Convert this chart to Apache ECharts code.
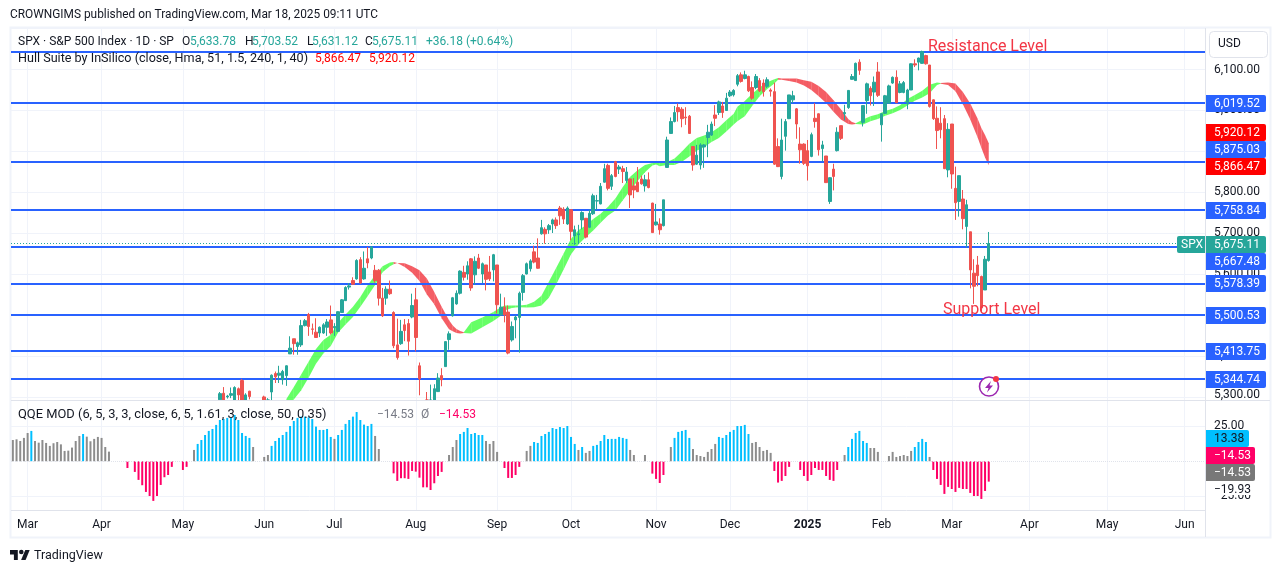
<!DOCTYPE html>
<html><head><meta charset="utf-8">
<style>html,body{margin:0;padding:0;background:#fff}#c{width:1281px;height:573px}</style>
<script src="https://cdn.jsdelivr.net/npm/echarts@6/dist/echarts.min.js"></script>
</head><body><div id="c"></div>
<script>
const FONT = 'Roboto';
const barSlots = 323;
const priceMin = 5293.5, priceMax = 6201.3;
const monthTicks = {4:'Mar',24:'Apr',46:'May',68:'Jun',87:'Jul',109:'Aug',131:'Sep',151:'Oct',174:'Nov',194:'Dec',215:'2025',235:'Feb',254:'Mar',275:'Apr',296:'May',317:'Jun'};
const firstCandle = 56;
const opens = [
5294,5310,5301,5305,5290,5321,5341,5290,5315,null,null,null,5301,5280,
5313,5358,5354,5343,5353,5406,5443,5424,5428,5475,5502,5467,5459,5457,5457,5471,
5489,5470,5461,5507,5536,5569,5585,5589,5636,5589,5638,5640,5610,5610,5542,5542,5564,5507,5428,5431,
5477,5480,5496,5538,5377,null,5260,5290,5280,5314,5353,5375,5441,5499,5528,5554,5605,5601,5638,5599,5640,
5601,5623,5606,5611,5623,5501,5520,5508,5440,5489,5495,5556,5601,5614,5655,5640,5699,5710,5709,5723,5733,
5762,5759,5723,5758,5694,5697,5733,5737,5715,5748,5779,5772,5825,5866,5815,5875,5857,5858,5829,5833,5816,
5825,5833,5816,5831,5774,5721,5723,5719,
5861,5944,5973,6007,6003,5984,5986,5912,5869,5867,5911,5934,5940,5989,5995,
6011,6000,6036,6038,6064,6087,6078,6083,6056,6056,6073,6067,6059,6050,6046,5912,5839,5937,5980,6026,6004,
5918,5918,5902,5888,5981,5992,5907,5889,5778,5857,5902,5963,5992,6007,6076,6073,6118,5971,6024,6054,6045,
6094,5965,5993,6018,6067,6081,6044,6044,6018,6050,6114,6118,6115,6134,6111,6026,5981,5969,5980,5855,5967,
5810,5778,5784,5717,5704,5603,5623,5595,5562,5633.78];
const highs = [
5313,5325,5306,5324,5327,5324,5345,5310,5316,null,null,null,5304,5298,
5356,5363,5377,5367,5378,5449,5443,5436,5489,5491,5506,5480,5493,5473,5481,5491,
5524,5481,5510,5540,5571,5579,5593,5637,5642,5656,5667,5669,5623,5613,5567,5571,5585,5510,5492,5489,
5491,5491,5553,5567,5385,null,5313,5331,5332,5359,5371,5436,5461,5545,5561,5610,5621,5632,5640,5644,5650,
5629,5623,5645,5650,5623,5553,5544,5524,5485,5500,5558,5601,5629,5637,5670,5688,5733,5715,5723,5736,5739,
5767,5764,5766,5758,5719,5721,5754,5737,5758,5797,5794,5823,5870,5870,5845,5877,5867,5865,5862,5833,5835,
5862,5841,5843,5849,5775,5772,5737,5782,
5936,5983,6011,6017,6008,6008,5989,5913,5916,5920,5918,5965,5973,6013,6024,
6021,6043,6050,6052,6089,6093,6097,6085,6071,6089,6079,6076,6081,6054,6068,5932,5980,5979,6038,6048,6006,
5959,5920,5928,5946,6018,5993,5926,5889,5837,5870,5959,5963,6014,6050,6089,6117,6125,6012,6068,6059,6083,
6118,5993,6038,6063,6083,6098,6072,6072,6053,6115,6125,6129,6146,6136,6111,6027,6010,6008,5989,5969,5967,
5863,5841,5806,5782,5704,5637,5645,5597,5645,5703.52];
const lows = [
5292,5285,5297,5298,5285,5290,5285,5285,5295,null,null,null,5285,5275,
5285,5335,5335,5331,5328,5406,5404,5404,5423,5473,5450,5453,5445,5447,5455,5450,
5453,5450,5459,5506,5535,5563,5575,5587,5577,5587,5615,5637,5580,5524,5496,5526,5550,5420,5392,5428,
5437,5402,5493,5412,5305,null,5255,5260,5275,5313,5327,5375,5416,5497,5526,5551,5585,5587,5560,5575,5613,
5579,5561,5584,5583,5505,5500,5483,5405,5436,5444,5409,5536,5600,5607,5627,5614,5697,5675,5699,5701,5711,
5721,5723,5721,5683,5672,5676,5710,5688,5713,5745,5758,5771,5824,5805,5806,5837,5845,5823,5823,5762,5786,
5801,5819,5802,5810,5701,5719,5697,5717,
5860,5943,5971,5973,5959,5965,5943,5853,5867,5856,5860,5886,5938,5962,5989,
5982,5999,6033,6034,6059,6068,6076,6045,6026,6052,6045,6034,6055,6034,5867,5862,5832,5902,5979,6018,5931,
5870,5867,5829,5886,5958,5890,5876,5823,5772,5805,5900,5928,5976,6004,6075,6072,6087,5961,5992,6012,6011,
6033,5924,5992,6016,6065,6018,6042,6042,6003,6050,6106,6098,6114,6112,6007,5977,5906,5932,5857,5837,5809,
5733,5741,5710,5666,5566,5528,5571,5509,5562,5631.12];
const closes = [
5309,5290,5303,5309,5324,5306,5290,5306,5302,null,null,null,5293,5285,
5354,5350,5359,5363,5377,5420,5431,5433,5475,5487,5473,5466,5446,5471,5477,5484,
5457,5473,5509,5538,5568,5572,5576,5634,5579,5615,5628,5667,5585,5542,5499,5564,5553,5426,5397,5461,
5463,5437,5524,5446,5345,null,5285,5270,5321,5347,5343,5436,5455,5543,5554,5608,5593,5621,5567,5632,5615,
5626,5588,5589,5648,5526,5520,5501,5408,5473,5496,5554,5597,5626,5633,5630,5615,5714,5699,5719,5733,5719,
5743,5735,5762,5705,5709,5699,5751,5691,5749,5792,5780,5815,5858,5810,5841,5839,5862,5851,5850,5794,5806,
5802,5821,5831,5812,5702,5728,5709,5782,
5928,5973,5995,5997,5980,5982,5944,5867,5891,5916,5916,5947,5967,5981,6021,
5995,6030,6045,6049,6085,6071,6087,6048,6030,6083,6048,6046,6075,6047,5869,5863,5928,5973,6038,6036,5967,
5904,5871,5865,5941,5973,5904,5916,5824,5836,5839,5947,5932,5995,6049,6083,6115,6098,6012,6065,6036,6069,
6037,5992,6036,6060,6081,6019,6065,6068,6050,6114,6111,6128,6144,6114,6010,5980,5951,5953,5858,5954,5845,
5775,5841,5736,5770,5611,5571,5597,5518,5637,5675.11];
const levelLines = [6143,6019.52,5875.03,5758.84,5667.48,5578.39,5500.53,5413.75,5344.74];
const lastClose = 5675.11;
const priceTicks = [5300,5400,5500,5600,5700,5800,5900,6000,6100,6200];
const priceLabels = [5400,5500,5600,5700,5800,5900,6000,6100];
const hullIdx = [74,76,78,80,82,84,86,88,90,92,94,96,98,100,102,103,104,106,108,110,112,114,116,118,119,120,121,122,
124,127,130,132,133,135,136,137,139,141,143,145,147,149,151,153,155,157,159,161,163,165,167,169,171,173,174,175,177,179,181,183,185,187,189,191,193,195,196,198,200,202,204,206,207,
208,210,212,214,216,218,220,222,224,226,227,228,230,232,234,236,238,240,242,244,246,248,250,251,253,255,257,259,261,262,263,264];
const hullUpper = [5296,5325,5356,5387,5418,5440,5453,5482,5502,5521,5545,5574,5598,5620,5629,5630,5628,5627,5620,5610,5590,5557,5521,5488,5475,5467,5462,5459,
5483,5495,5508,5520,5524,5524,5524,5524,5526,5533,5548,5582,5616,5651,5687,5708,5720,5735,5748,5765,5785,5813,5838,5854,5867,5872,5872,5872,5874,5883,5900,5919,5933,5939,5947,5959,5976,5992,6009,6023,6041,6056,6069,6076,6079,
6078,6078,6078,6074,6070,6060,6045,6025,6003,5979,5972,5969,5978,5986,5991,5999,6004,6013,6028,6038,6048,6063,6068,6067,6068,6066,6045,6017,5980,5957,5940,5920.12];
const hullLower = [5275,5295,5317,5348,5382,5407,5425,5458,5478,5496,5521,5547,5574,5605,5620,5625,5628,5618,5604,5584,5551,5527,5493,5466,5461,5457,5456,5457,
5456,5471,5486,5499,5512,5518,5519,5520,5519,5520,5524,5543,5576,5612,5649,5673,5691,5707,5726,5744,5756,5781,5805,5828,5849,5866,5868,5864,5867,5867,5875,5888,5902,5910,5923,5933,5949,5966,5974,5986,6011,6035,6052,6066,6075,
6075,6072,6068,6061,6050,6035,6018,5997,5978,5967,5966,5967,5966,5974,5979,5987,5993,6001,6012,6024,6032,6042,6062,6065,6062,6047,6015,5978,5934,5909,5885,5866.47];
const hullRedSpans = [[103,121],[207,227],[251,264]];
const qqeValues = [
15.2,15.7,14.5,16.7,20.2,21.7,14.5,13.3,15.2,13.1,11.0,12.9,13.8,12.1,7.4,7.6,9.8,14.5,18.1,19.5,17.6,14.3,16.0,17.4,16.7,10.2,6.9,
null,null,null,null,-4.8,null,-7.6,-13.3,-17.1,-21.9,-24.8,-28.3,-24.8,-16.9,-11.4,-9.8,-4.0,null,null,-6.2,-4.0,null,
8.1,12.4,15.2,18.8,21.7,23.1,26.0,29.5,30.2,31.0,31.0,33.1,29.5,20.2,18.1,16.7,10.2,null,null,
3.1,4.5,11.0,14.5,16.7,18.8,21.0,25.2,28.8,31.0,31.9,31.9,31.4,30.2,24.8,22.4,22.4,23.1,17.4,16.0,18.8,22.4,26.7,29.5,31.9,35.2,29.5,26.2,25.2,26.7,18.1,8.8,null,null,null,
-8.6,-14.0,-12.1,-12.1,-12.6,-6.9,-7.4,-11.7,-18.6,-18.6,-20.5,-15.7,-10.5,-7.6,null,
4.5,10.2,15.2,19.5,21.0,23.8,19.5,20.2,18.8,18.8,14.5,12.4,14.5,6.7,null,
-4.8,-11.9,-11.9,-9.8,-4.0,null,
7.4,11.0,13.8,13.1,18.1,19.5,21.0,23.8,23.1,24.5,23.8,25.2,17.4,12.4,8.1,10.2,6.0,7.4,11.0,11.7,14.5,18.8,16.0,16.0,16.0,17.4,16.7,16.0,8.1,4.5,null,null,4.5,null,
-8.8,-12.6,-15.5,-9.8,null,
10.2,16.7,21.0,21.7,22.4,16.7,8.8,4.5,3.8,3.1,6.7,8.8,12.4,17.4,16.7,18.8,21.0,22.4,25.2,25.2,26.0,19.5,13.1,13.8,10.2,7.4,8.1,6.0,
-6.9,-15.2,-14.0,-10.5,-4.0,null,null,
-6.2,-10.5,-14.0,-9.8,-4.8,-6.2,-6.2,-10.5,-13.3,-14.0,-6.2,null,
4.5,10.2,16.0,20.2,21.7,14.5,13.1,9.5,9.5,6.7,null,null,
3.8,6.7,3.1,3.8,4.5,3.8,7.4,10.2,13.8,16.0,13.8,3.1,
-6.2,-12.6,-16.9,-23.3,-18.3,-19.8,-21.9,-19.0,-19.8,-19.8,-22.6,-24.8,-24.8,-26.9,-21.2,-14.53];
const qqeBlueSpans = [[5,5],[19,19],[50,64],[70,86],[88,97],[121,127],[141,152],[154,154],[157,166],[179,183],[191,199],[226,231],[244,247]];
const qqeTicks = [-25,25];

const inSpan=(i,spans)=>spans.some(s=>i>=s[0]&&i<=s[1]);
const categories = Array.from({length:barSlots},(_,i)=>String(i));
const fmtPrice=v=>Number(v).toLocaleString('en-US',{minimumFractionDigits:2,maximumFractionDigits:2});
const inPane=v=>Math.max(v,priceMin);
const candleData = categories.map((_,i)=>{const k=i-firstCandle; if(k<0||k>=opens.length||opens[k]==null) return ['-','-','-','-']; return [inPane(opens[k]),inPane(closes[k]),inPane(lows[k]),inPane(highs[k])];});
const hullData = hullIdx.slice(0,-1).map((x,k)=>[x,hullUpper[k],hullLower[k],hullIdx[k+1],hullUpper[k+1],hullLower[k+1]]);
const showTick=i=>monthTicks[i]!==undefined;

const TXT='#131722', GRID='#f0f3fa', EDGE='#e0e3eb', BLUE='#2962ff';
function label(x,y,text,color,size,stretch){const el={type:'text',z:200,silent:true,style:{x,y,text,fill:color||TXT,font:(size||12)+'px '+FONT,textVerticalAlign:'middle'}}; if(stretch){el.scaleX=stretch;el.originX=x;} return el;}
function tag(y0,y1,text,bg,x1,fg){return [
 {type:'rect',z:150,silent:true,shape:{x:1206,y:y0,width:(x1||1266)-1206,height:y1-y0,r:[0,2,2,0]},style:{fill:bg}},
 label(1214,(y0+y1)/2,text,fg||'#fff')];}
const graphics=[
 {type:'rect',z:1,silent:true,shape:{x:10.5,y:27.5,width:1260,height:510},style:{fill:'none',stroke:GRID,lineWidth:2}},
 {type:'line',z:120,silent:true,shape:{x1:1205.5,y1:28,x2:1205.5,y2:537},style:{stroke:EDGE,lineWidth:1}},
 {type:'line',z:120,silent:true,shape:{x1:11,y1:400.5,x2:1270,y2:400.5},style:{stroke:EDGE,lineWidth:1}},
 {type:'line',z:120,silent:true,shape:{x1:11,y1:510.5,x2:1205,y2:510.5},style:{stroke:EDGE,lineWidth:1}},
 label(10,15,'CROWNGIMS published on TradingView.com, Mar 18, 2025 09:11 UTC',TXT,12,0.99),
 label(18,42,'SPX · S&P 500 Index · 1D · SP'),
 label(182,42,'O'),label(190,42,'5,633.78','#26a69a'),
 label(245,42,'H'),label(252,42,'5,703.52','#26a69a'),
 label(307,42,'L'),label(312,42,'5,631.12','#26a69a'),
 label(365,42,'C'),label(372,42,'5,675.11','#26a69a'),
 label(426,42,'+36.18 (+0.64%)','#26a69a'),
 label(18,59,'Hull Suite by InSilico (close, Hma, 51, 1.5, 240, 1, 40)',TXT,12,1.05),
 label(315,59,'5,866.47','#ff0000'),label(369,59,'5,920.12','#ff0000'),
 label(18,415,'QQE MOD (6, 5, 3, 3, close, 6, 5, 1.61, 3, close, 50, 0.35)',TXT,12,1.073),
 label(377,415,'−14.53','#787b86'),label(421,415,'Ø','#787b86'),label(439,415,'−14.53','#ff0066'),
 label(928,46.5,'Resistance Level','#f23645',16),
 label(943,309.5,'Support Level','#f23645',16),
 {type:'rect',z:150,silent:true,shape:{x:1209.5,y:31.5,width:58,height:26,r:4},style:{fill:'#fff',stroke:EDGE,lineWidth:1}},
 label(1218,44,'USD'),
 label(1214,395,'5,300.00'),
 ...tag(95,112,'6,019.52',BLUE),
 ...tag(124,141,'5,920.12','#ff0000'),
 ...tag(141,158,'5,875.03',BLUE),
 ...tag(158,175,'5,866.47','#ff0000'),
 ...tag(202,219,'5,758.84',BLUE),
 ...tag(253,270,'5,667.48',BLUE),
 ...tag(236,253,'5,675.11','#26a69a'),
 ...tag(275,292,'5,578.39',BLUE),
 ...tag(307,324,'5,500.53',BLUE),
 ...tag(343,360,'5,413.75',BLUE),
 ...tag(371,388,'5,344.74',BLUE),
 {type:'rect',z:150,silent:true,shape:{x:1177,y:236,width:28,height:17,r:[2,0,0,2]},style:{fill:'#26a69a'}},
 label(1181,244.5,'SPX','#fff'),
 ...tag(430,447,'13.38','#00bfff',1249,TXT),
 ...tag(447,464,'−14.53','#ff0066',1255),
 ...tag(464,481,'−14.53','#787878',1255),
 {type:'rect',z:150,silent:true,shape:{x:1206,y:481,width:60,height:14},style:{fill:'#fff'}},
 label(1214,489.5,'−19.93'),
 {type:'circle',z:180,silent:true,shape:{cx:989,cy:386.5,r:9.5},style:{fill:'#fff',stroke:'#9c27b0',lineWidth:1.6}},
 {type:'polygon',z:181,silent:true,shape:{points:[[991,381],[985,388],[988.5,388],[987,392.5],[993,385.5],[989.5,385.5]]},style:{fill:'#9c27b0'}},
 {type:'circle',z:182,silent:true,shape:{cx:996,cy:379,r:3},style:{fill:'#f23645'}},
 {type:'polygon',z:200,silent:true,shape:{points:[[10,550],[17.8,550],[17.8,560],[13.9,560],[13.9,554.5],[10,554.5]]},style:{fill:TXT}},
 {type:'polygon',z:200,silent:true,shape:{points:[[25.6,560],[21.1,560],[25.3,550],[29.7,550]]},style:{fill:TXT}},
 {type:'circle',z:200,silent:true,shape:{cx:21.3,cy:552,r:2.3},style:{fill:TXT}},
 label(34,555.5,'TradingView',TXT,12.5)
];

const chart=echarts.init(document.getElementById('c'),null,{renderer:'canvas'});
chart.setOption({
 animation:false,
 textStyle:{fontFamily:FONT},
 grid:[{left:11,top:28,width:1194,height:372},{left:11,top:401,width:1194,height:109}],
 xAxis:[0,1].map(g=>({type:'category',gridIndex:g,data:categories,boundaryGap:true,
   axisLine:{show:false},axisTick:{show:false,alignWithLabel:true,interval:showTick},
   splitLine:{show:true,alignWithLabel:true,interval:showTick,lineStyle:{color:GRID,width:1}},
   axisLabel:g===0?{show:false}:{show:true,interval:showTick,margin:9,color:TXT,fontSize:12,fontFamily:FONT,hideOverlap:false,
     formatter:v=>{const s=monthTicks[+v]; return s==='2025'?'{b|2025}':s;},rich:{b:{fontWeight:'bold',fontSize:12,fontFamily:FONT,color:TXT}}}})),
 yAxis:[
  {type:'value',gridIndex:0,position:'right',min:priceMin,max:priceMax,
   axisLine:{show:false},axisTick:{show:false,customValues:priceTicks},
   axisLabel:{customValues:priceLabels,color:TXT,fontSize:12,fontFamily:FONT,margin:9,formatter:fmtPrice},
   splitLine:{show:true,lineStyle:{color:GRID,width:1}}},
  {type:'value',gridIndex:1,position:'right',min:-34.8,max:43.07,
   axisLine:{show:false},axisTick:{show:false,customValues:qqeTicks},
   axisLabel:{customValues:qqeTicks,color:TXT,fontSize:12,fontFamily:FONT,margin:9,formatter:v=>(v<0?'−':'')+Math.abs(v).toFixed(2)},
   splitLine:{show:true,lineStyle:{color:GRID,width:1}}}
 ],
 graphic:graphics,
 series:[
  {type:'line',xAxisIndex:0,yAxisIndex:0,data:[],z:3,silent:true,
   markLine:{silent:true,symbol:'none',label:{show:false},animation:false,
    data:[...levelLines.map(v=>({yAxis:v,lineStyle:{color:BLUE,width:2,type:'solid'}})),
          {yAxis:lastClose,lineStyle:{color:'#26a69a',width:1,type:[1,2]}}]}},
  {type:'custom',xAxisIndex:0,yAxisIndex:0,z:4,clip:true,silent:true,data:hullData,encode:{x:0,y:[1,2]},
   renderItem:(p,api)=>{
    const i0=api.value(0),i1=api.value(3);
    const pts=[api.coord([i0,api.value(1)]),api.coord([i1,api.value(4)]),api.coord([i1,api.value(5)]),api.coord([i0,api.value(2)])];
    return {type:'polygon',shape:{points:pts},style:{fill:inSpan(i0,hullRedSpans)?'rgba(240,30,40,0.72)':'rgba(0,255,0,0.6)',stroke:null}};
   }},
  {type:'candlestick',xAxisIndex:0,yAxisIndex:0,z:5,barWidth:3,silent:true,data:candleData,
   itemStyle:{color:'#26a69a',color0:'#ef5350',borderColor:'#26a69a',borderColor0:'#ef5350',borderWidth:1}},
  {type:'bar',xAxisIndex:1,yAxisIndex:1,z:3,barWidth:2,silent:true,data:qqeValues,
   itemStyle:{color:p=>p.value<0?'#ff0066':(inSpan(p.dataIndex,qqeBlueSpans)?'#00bfff':'#8c8c8c')},
   markLine:{silent:true,symbol:'none',label:{show:false},data:[{yAxis:0,lineStyle:{color:EDGE,width:1,type:'dotted'}}]}}
 ]
});
</script></body></html>
